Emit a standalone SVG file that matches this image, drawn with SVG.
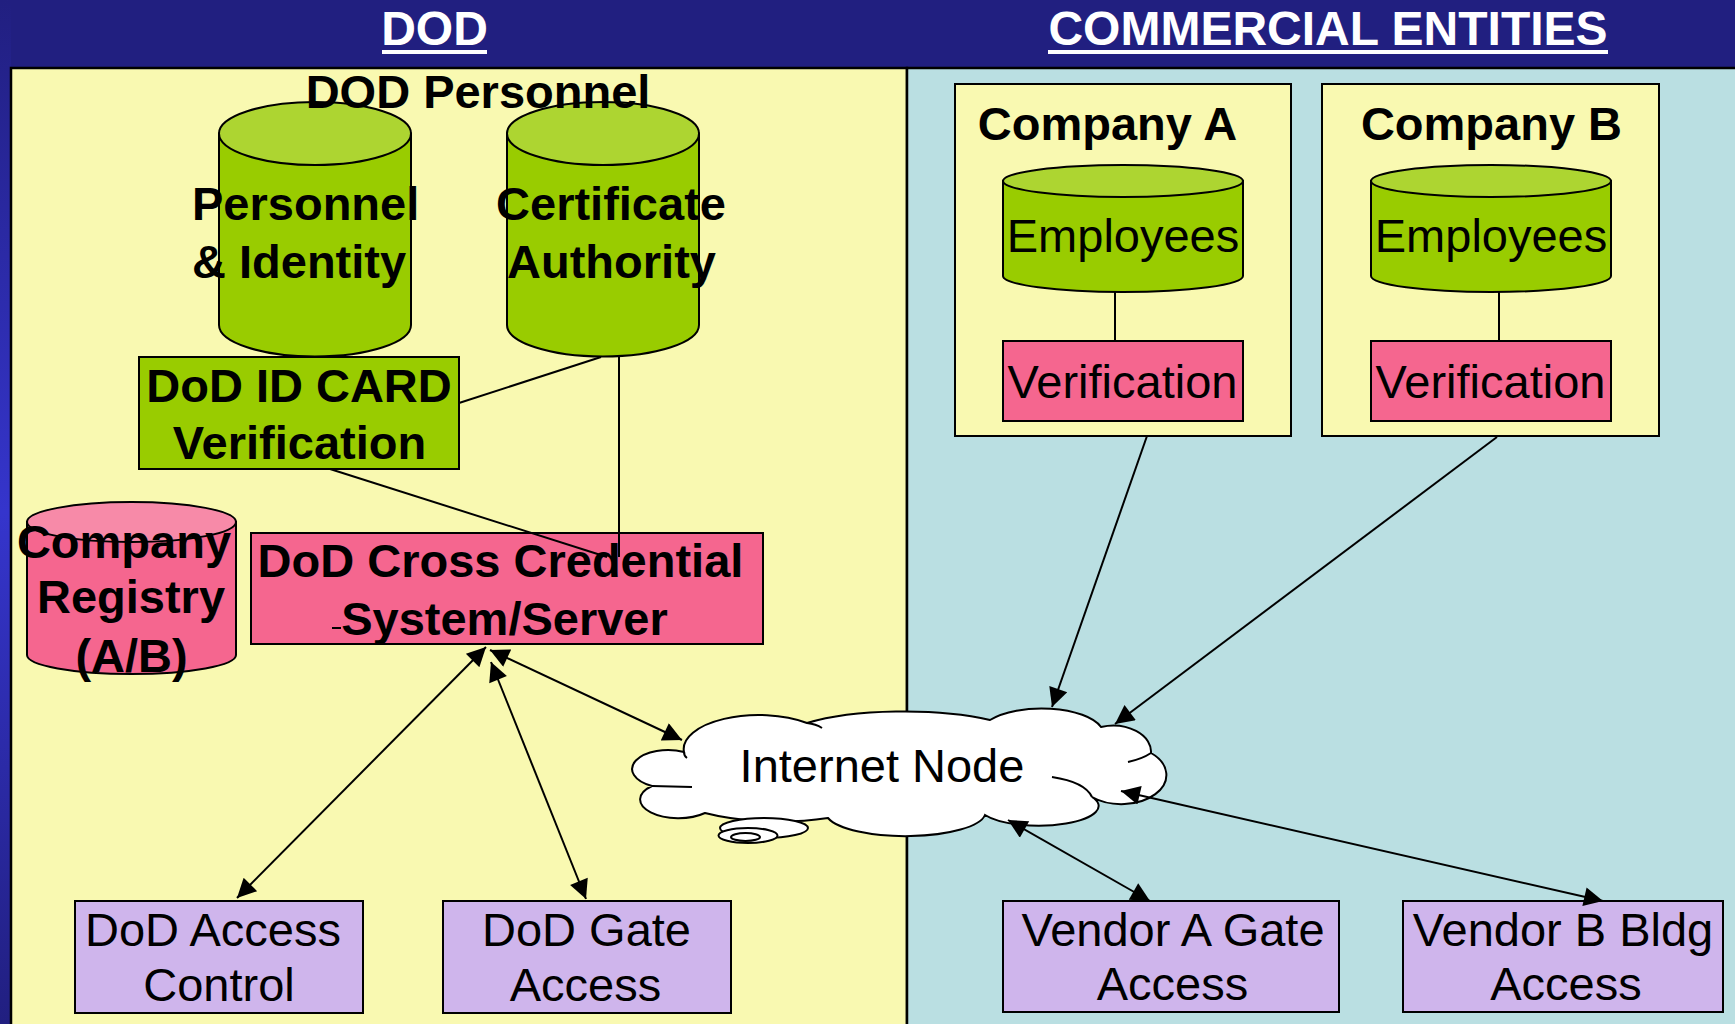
<svg xmlns="http://www.w3.org/2000/svg" width="1735" height="1024" viewBox="0 0 1735 1024">
<defs>
<linearGradient id="edge" x1="0" y1="0" x2="0" y2="1">
<stop offset="0" stop-color="#211f80"/>
<stop offset="0.5" stop-color="#3535cc"/>
<stop offset="1" stop-color="#211f80"/>
</linearGradient>
<marker id="ah" viewBox="0 0 10 10" refX="10" refY="5" markerUnits="userSpaceOnUse" markerWidth="23" markerHeight="19" orient="auto-start-reverse">
<path d="M0,0 L10,5 L0,10 z" fill="#000"/>
</marker>
<style>
.title{font-family:"Liberation Sans",Arial,sans-serif;font-weight:bold;font-size:48px;fill:#fff;text-anchor:middle}
.b{font-family:"Liberation Sans",Arial,sans-serif;font-weight:bold;font-size:47px;fill:#000;text-anchor:middle}
.n{font-family:"Liberation Sans",Arial,sans-serif;font-size:47px;fill:#000;text-anchor:middle}
.box{stroke:#000;stroke-width:2}
.green{fill:#99cc00}
.greentop{fill:#add531}
.pink{fill:#f5668f}
.pinktop{fill:#f78aa8}
.purple{fill:#cfb5ec}
.wrap{fill:#f9f9b1;stroke:#000;stroke-width:2}
.line{stroke:#000;stroke-width:2;fill:none}
.cloud{fill:#fff;stroke:#000;stroke-width:2}
</style>
</defs>
<rect x="0" y="0" width="1735" height="1024" fill="#211f80"/>
<rect x="0" y="0" width="11" height="1024" fill="url(#edge)"/>
<rect x="11" y="68" width="896" height="970" fill="#f9f9b1" stroke="#000" stroke-width="2.5"/>
<rect x="907" y="68" width="840" height="970" fill="#badfe2" stroke="#000" stroke-width="2.5"/>

<g id="title-dod">
<text class="title" x="434.5" y="45">DOD</text>
<rect x="382" y="50" width="105" height="4" fill="#fff"/>
</g>
<g id="title-commercial">
<text class="title" x="1328" y="45">COMMERCIAL ENTITIES</text>
<rect x="1048" y="50" width="560" height="4" fill="#fff"/>
</g>

<g id="personnel-identity">
<path class="box green" d="M219,133.5 L219,325 A96,31.5 0 0 0 411,325 L411,133.5 Z"/>
<ellipse class="box greentop" cx="315" cy="133.5" rx="96" ry="31.5"/>
<text class="b" x="192" y="220" style="text-anchor:start">Personnel</text>
<text class="b" x="192" y="278" style="text-anchor:start">&amp; Identity</text>
</g>
<g id="certificate-authority">
<path class="box green" d="M507,133.5 L507,325 A96,31.5 0 0 0 699,325 L699,133.5 Z"/>
<ellipse class="box greentop" cx="603" cy="133.5" rx="96" ry="31.5"/>
<text class="b" x="611" y="220">Certificate</text>
<text class="b" x="611.5" y="278">Authority</text>
</g>
<g id="dod-personnel-label">
<text class="b" x="478" y="108">DOD Personnel</text>
</g>
<g id="dod-id-card">
<rect class="box green" x="139" y="357" width="320" height="112"/>
<text class="b" x="299" y="402">DoD ID CARD</text>
<text class="b" x="299.5" y="459">Verification</text>
</g>
<g id="company-registry">
<path class="box pink" d="M27,522 L27,655 A104.5,19 0 0 0 236,655 L236,522 Z"/>
<ellipse class="box pinktop" cx="131.5" cy="522" rx="104.5" ry="20"/>
<text class="b" x="124" y="558">Company</text>
<text class="b" x="131" y="613">Registry</text>
<text class="b" x="131.5" y="672">(A/B)</text>
</g>
<g id="cross-credential">
<rect class="box pink" x="251" y="533" width="512" height="111"/>
<text class="b" x="500.5" y="577">DoD Cross Credential</text>
<text class="b" x="504.5" y="635">System/Server</text>
<line x1="332" y1="628" x2="341" y2="628" stroke="#000" stroke-width="2"/>
</g>

<g id="company-a">
<rect class="wrap" x="955" y="84" width="336" height="352"/>
<text class="b" x="1107.5" y="140">Company A</text>
</g>
<g id="employees-a">
<path class="box green" d="M1003,181 L1003,276 A120,16 0 0 0 1243,276 L1243,181 Z"/>
<ellipse class="box greentop" cx="1123" cy="181" rx="120" ry="16"/>
<text class="n" x="1123" y="252">Employees</text>
</g>
<g id="verification-a">
<rect class="box pink" x="1003" y="341" width="240" height="80"/>
<text class="n" x="1122.5" y="398">Verification</text>
</g>
<g id="company-b">
<rect class="wrap" x="1322" y="84" width="337" height="352"/>
<text class="b" x="1491.5" y="140">Company B</text>
</g>
<g id="employees-b">
<path class="box green" d="M1371,181 L1371,276 A120,16 0 0 0 1611,276 L1611,181 Z"/>
<ellipse class="box greentop" cx="1491" cy="181" rx="120" ry="16"/>
<text class="n" x="1491" y="252">Employees</text>
</g>
<g id="verification-b">
<rect class="box pink" x="1371" y="341" width="240" height="80"/>
<text class="n" x="1490.5" y="398">Verification</text>
</g>

<g id="internet-node">
<path class="cloud" d="M684,752 A75,34 0 0 1 807,723 A126,32 0 0 1 990,720 A62,26 0 0 1 1101,727 A38,26 0 0 1 1151,753 A40,26 0 0 1 1092,797 A55,18 0 0 1 985,815 A80,24 0 0 1 828,818 A120,40 0 0 1 705,813 A35,17 0 0 1 652,786 A34,18 0 0 1 684,752 Z"/>
<path class="line" d="M652,786 L692,787 M807,723 Q816,724 822,728 M1128,762 Q1142,759 1151,753 M1052,777 Q1085,782 1092,797 M684,752 Q684,756 687,758"/>
<ellipse class="cloud" cx="764" cy="828" rx="44" ry="10"/>
<ellipse class="cloud" cx="748" cy="835.5" rx="29.5" ry="7.5"/>
<ellipse class="cloud" cx="745.5" cy="837" rx="14.5" ry="4"/>
<text class="n" x="882" y="782">Internet Node</text>
</g>

<g id="dod-access-control">
<rect class="box purple" x="75" y="901" width="288" height="112"/>
<text class="n" x="213" y="946">DoD Access</text>
<text class="n" x="219" y="1001">Control</text>
</g>
<g id="dod-gate-access">
<rect class="box purple" x="443" y="901" width="288" height="112"/>
<text class="n" x="586.5" y="946">DoD Gate</text>
<text class="n" x="585.5" y="1001">Access</text>
</g>
<g id="vendor-a-gate">
<rect class="box purple" x="1003" y="901" width="336" height="111"/>
<text class="n" x="1173" y="946">Vendor A Gate</text>
<text class="n" x="1172.5" y="1000">Access</text>
</g>
<g id="vendor-b-bldg">
<rect class="box purple" x="1403" y="901" width="320" height="111"/>
<text class="n" x="1563" y="946">Vendor B Bldg</text>
<text class="n" x="1566" y="1000">Access</text>
</g>

<g id="connectors">
<line class="line" x1="459" y1="403" x2="601" y2="357"/>
<line class="line" x1="619" y1="357" x2="619" y2="557"/>
<line class="line" x1="330" y1="469" x2="607" y2="557"/>
<line class="line" x1="1115" y1="292" x2="1115" y2="341"/>
<line class="line" x1="1499" y1="292" x2="1499" y2="341"/>
<line class="line" x1="1147" y1="436" x2="1052" y2="707" marker-end="url(#ah)"/>
<line class="line" x1="1497" y1="437" x2="1115" y2="724" marker-end="url(#ah)"/>
<line class="line" x1="486" y1="647" x2="237" y2="898" marker-start="url(#ah)" marker-end="url(#ah)"/>
<line class="line" x1="491" y1="662" x2="586" y2="899" marker-start="url(#ah)" marker-end="url(#ah)"/>
<line class="line" x1="490" y1="650" x2="682" y2="740" marker-start="url(#ah)" marker-end="url(#ah)"/>
<line class="line" x1="1008" y1="820" x2="1150" y2="901" marker-start="url(#ah)" marker-end="url(#ah)"/>
<line class="line" x1="1121" y1="791" x2="1603" y2="901" marker-start="url(#ah)" marker-end="url(#ah)"/>
</g>
</svg>
